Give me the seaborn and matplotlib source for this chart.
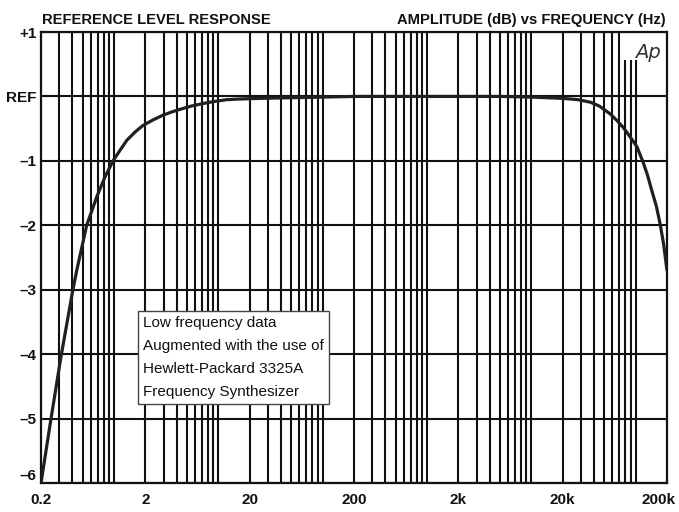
import matplotlib
matplotlib.use('Agg')
import numpy as np
import pandas as pd
import seaborn as sns
from matplotlib import pyplot as plt
from matplotlib import transforms
from matplotlib.ticker import FixedLocator, NullFormatter

# response
freq_hz = [0.2, 0.245, 0.31, 0.4, 0.44, 0.548, 0.684, 0.82, 0.98, 1.15, 1.33, 1.6,
           1.9, 2.4, 2.96, 3.6, 4.3, 5.5, 7.15, 9, 12.1, 16, 25, 50, 100, 200,
           1000, 5000, 10000, 20000, 28000, 37000, 45000, 57000, 66000, 76000,
           88000, 103000, 118000, 130000, 143000, 158000, 172000, 186000, 200000]
level_db = [-6.0, -5.08, -4.05, -3.04, -2.7, -2.0, -1.56, -1.25, -1.0, -0.83, -0.68,
            -0.55, -0.45, -0.36, -0.29, -0.24, -0.20, -0.15, -0.11, -0.08, -0.05,
            -0.04, -0.03, -0.02, -0.01, 0.0, 0.0, 0.0, -0.01, -0.03, -0.05, -0.09,
            -0.15, -0.27, -0.37, -0.48, -0.62, -0.78, -1.02, -1.22, -1.46, -1.7,
            -1.98, -2.3, -2.70]

xtick_vals = [0.2, 2, 20, 200, 2000, 20000, 200000]
xtick_labels = ['0.2', '2', '20', '200', '2k', '20k', '200k']
ytick_vals = [1, 0, -1, -2, -3, -4, -5, -6]
ytick_labels = ['+1', 'REF', '\u20131', '\u20132', '\u20133', '\u20134', '\u20135', '\u20136']

note_lines = ['Low frequency data',
              'Augmented with the use of',
              'Hewlett-Packard 3325A',
              'Frequency Synthesizer']

df = pd.DataFrame({'Frequency': freq_hz, 'Level': level_db})

sns.set_theme(style='white')
plt.rcParams['font.family'] = ['Liberation Sans Narrow', 'Liberation Sans', 'DejaVu Sans']

fig = plt.figure(figsize=(6.79, 5.12), dpi=100)
ax = fig.add_axes([0.0604, 0.0566, 0.9219, 0.8809])

ax.set_xscale('log')
ax.set_xlim(0.2, 200000)
ax.set_ylim(-6, 1)

# vertical grid: every 1..9 x 10^n inside the range
grid_x = [k * 10.0 ** n for n in range(-1, 6) for k in range(1, 10)]
grid_x = [g for g in grid_x if 0.2 < g < 200000]
short_x = [80000, 90000, 100000]   # left short for the logo
full_x = [g for g in grid_x if not any(abs(g - s) < 1 for s in short_x)]
ax.vlines(full_x, -6, 1, colors='#111111', linewidth=1.5, zorder=1)
ax.vlines(short_x, -6, 0.57, colors='#111111', linewidth=1.5, zorder=1)
ax.hlines(ytick_vals, 0.2, 200000, colors='#111111', linewidth=1.5, zorder=1)

sns.lineplot(data=df, x='Frequency', y='Level', ax=ax, color='#231f20',
             linewidth=2.3, sort=False, estimator=None, zorder=3)

ax.xaxis.set_major_locator(FixedLocator(xtick_vals))
ax.set_xticklabels(xtick_labels)
ax.xaxis.set_minor_locator(FixedLocator([]))
ax.xaxis.set_minor_formatter(NullFormatter())
ax.set_yticks(ytick_vals)
ax.set_yticklabels(ytick_labels)
ax.tick_params(axis='x', length=0, pad=7, labelsize=11, colors='#111111')
ax.tick_params(axis='y', length=0, pad=3, labelsize=11, colors='#111111')
for lab in ax.get_xticklabels() + ax.get_yticklabels():
    lab.set_fontweight('bold')
ax.get_yticklabels()[-1].set_va('bottom')
last = ax.get_xticklabels()[-1]
last.set_transform(last.get_transform() +
                   transforms.ScaledTranslation(-6 / 72, 0, fig.dpi_scale_trans))
ax.set_xlabel('')
ax.set_ylabel('')
ax.grid(False)

for sp in ax.spines.values():
    sp.set_color('#111111')
    sp.set_linewidth(1.6)

fig.text(0.062, 0.948, 'REFERENCE LEVEL RESPONSE', fontsize=10.6, fontweight='bold',
         color='#111111', ha='left', va='bottom')
fig.text(0.981, 0.948, 'AMPLITUDE (dB) vs FREQUENCY (Hz)', fontsize=10.6,
         fontweight='bold', color='#111111', ha='right', va='bottom')

ax.text(0.99, 0.975, 'Ap', transform=ax.transAxes, fontsize=14, fontstyle='italic',
        color='#333333', ha='right', va='top', family=['DejaVu Sans'],
        fontweight='light')

ax.text(0.163, 0.37, '\n'.join(note_lines), transform=ax.transAxes, fontsize=11,
        color='#111111', ha='left', va='top', linespacing=1.8, zorder=5,
        bbox=dict(facecolor='white', edgecolor='#444444', linewidth=1.0,
                  boxstyle='square,pad=0.35'))

fig.savefig('out.png', dpi=100)
